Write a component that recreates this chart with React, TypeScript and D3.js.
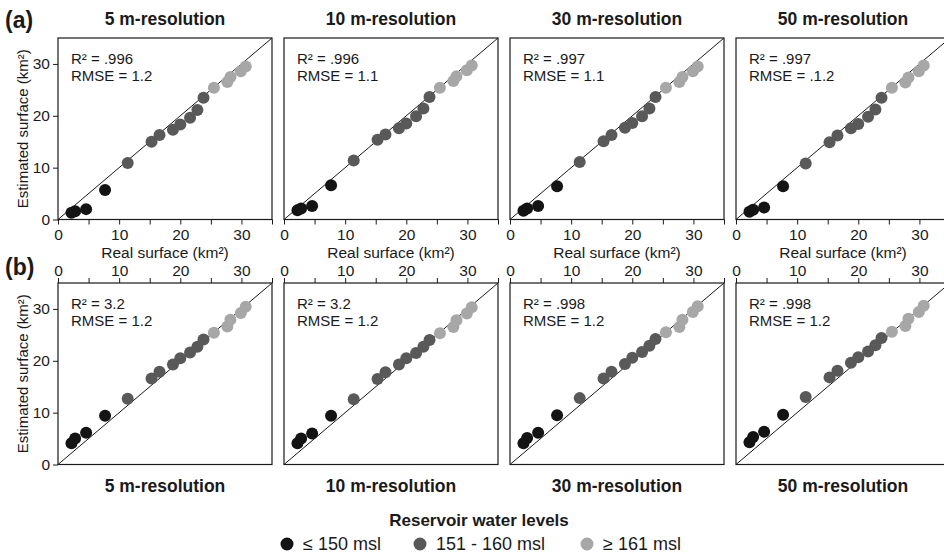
import React, { useEffect, useRef } from 'react';
import * as d3 from 'd3';

// Real surface (km²) of each reservoir observation, same in every panel
const realSurface = [2.2, 2.8, 4.6, 7.7, 11.4, 15.3, 16.6, 18.8, 20.0, 21.6, 22.8, 23.8, 25.5, 27.7, 28.2, 29.9, 30.7];
// water level class: 0 = <=150, 1 = 151-160, 2 = >=161
const levelGroup = [0, 0, 0, 0, 1, 1, 1, 1, 1, 1, 1, 1, 2, 2, 2, 2, 2];

// estimated surface (km²), row (a)
const estA5 = [1.3, 1.6, 2.0, 5.7, 10.9, 15.0, 16.3, 17.3, 18.3, 19.6, 21.1, 23.5, 25.4, 26.5, 27.5, 28.6, 29.5];
const estA10 = [1.8, 2.1, 2.6, 6.6, 11.4, 15.4, 16.4, 17.6, 18.5, 19.9, 21.4, 23.6, 25.4, 26.7, 27.6, 28.8, 29.7];
const estA30 = [1.7, 2.1, 2.6, 6.4, 11.1, 15.1, 16.3, 17.7, 18.6, 19.9, 21.4, 23.6, 25.4, 26.5, 27.5, 28.6, 29.5];
const estA50 = [1.5, 1.9, 2.3, 6.4, 10.8, 14.9, 16.2, 17.6, 18.4, 19.8, 21.2, 23.5, 25.4, 26.4, 27.4, 28.6, 29.7];
// estimated surface (km²), row (b)
const estB5 = [4.1, 5.0, 6.1, 9.4, 12.7, 16.6, 17.9, 19.3, 20.5, 21.6, 22.7, 24.1, 25.4, 26.6, 27.9, 29.2, 30.4];
const estB10 = [4.1, 5.0, 6.0, 9.4, 12.6, 16.5, 17.8, 19.3, 20.5, 21.5, 22.7, 24.0, 25.3, 26.5, 27.8, 29.1, 30.3];
const estB30 = [4.1, 5.1, 6.1, 9.5, 12.8, 16.6, 17.9, 19.4, 20.6, 21.7, 22.9, 24.2, 25.5, 26.5, 27.9, 29.4, 30.5];
const estB50 = [4.3, 5.3, 6.3, 9.6, 13.0, 16.8, 18.1, 19.6, 20.7, 21.8, 23.0, 24.4, 25.6, 26.7, 28.1, 29.4, 30.6];

const resolutions = ['5 m-resolution', '10 m-resolution', '30 m-resolution', '50 m-resolution'];
const statsA = [
  ['R² = .996', 'RMSE = 1.2'],
  ['R² = .996', 'RMSE = 1.1'],
  ['R² = .997', 'RMSE = 1.1'],
  ['R² = .997', 'RMSE = .1.2'],
];
const statsB = [
  ['R² = 3.2', 'RMSE = 1.2'],
  ['R² = 3.2', 'RMSE = 1.2'],
  ['R² = .998', 'RMSE = 1.2'],
  ['R² = .998', 'RMSE = 1.2'],
];
const levelLabels = ['≤ 150 msl', '151 - 160 msl', '≥ 161 msl'];
const levelColors = ['#141414', '#595959', '#a7a7a7'];

const W = 944;
const H = 554;
const FONT = '"Liberation Sans", Arial, sans-serif';
const panelW = 214;
const panelH = 181.5;
const colStep = 226;
const left0 = 58;
const topA = 38;
const topB = 283;
const maxVal = 35;

type PanelProps = {
  x0: number;
  y0: number;
  est: number[];
  stats: string[];
  row: 'a' | 'b';
  showY: boolean;
};

const Panel = ({ x0, y0, est, stats, row, showY }: PanelProps) => {
  const xRef = useRef<SVGGElement>(null);
  const yRef = useRef<SVGGElement>(null);

  const x = d3.scaleLinear().domain([0, maxVal]).range([0, panelW]);
  const y = d3.scaleLinear().domain([0, maxVal]).range([panelH, 0]);

  useEffect(() => {
    const xTicks = d3.range(0, maxVal + 1, 5);
    const fmt = (d: d3.NumberValue) => (+d % 10 === 0 ? String(d) : '');
    const xAxis = row === 'a'
      ? d3.axisBottom(x).tickValues(xTicks).tickFormat(fmt).tickSize(5).tickPadding(4)
      : d3.axisTop(x).tickValues(xTicks).tickFormat(fmt).tickSize(5).tickPadding(2);
    const gx = d3.select(xRef.current!);
    gx.selectAll('*').remove();
    gx.call(xAxis);
    gx.select('.domain').remove();

    if (showY) {
      const gy = d3.select(yRef.current!);
      gy.selectAll('*').remove();
      gy.call(d3.axisLeft(y).tickValues([0, 10, 20, 30]).tickSize(5).tickPadding(3));
      gy.select('.domain').remove();
    }

    d3.selectAll([xRef.current, yRef.current])
      .selectAll('text')
      .attr('font-size', 15.5)
      .attr('font-family', FONT)
      .attr('fill', '#1a1a1a');
    d3.selectAll([xRef.current, yRef.current])
      .selectAll('line')
      .attr('stroke', '#1a1a1a');
  }, []);

  return (
    <g transform={`translate(${x0},${y0})`}>
      <rect x={0} y={0} width={panelW} height={panelH} fill="white" stroke="#1a1a1a" strokeWidth={1.2} />
      <line x1={x(0)} y1={y(0)} x2={x(maxVal)} y2={y(maxVal)} stroke="#1a1a1a" strokeWidth={1} />
      {realSurface.map((r, i) => (
        <circle key={i} cx={x(r)} cy={y(est[i])} r={6} fill={levelColors[levelGroup[i]]} />
      ))}
      <text x={13} y={26} fontSize={15} fontFamily={FONT} fill="#1a1a1a">{stats[0]}</text>
      <text x={13} y={43} fontSize={15} fontFamily={FONT} fill="#1a1a1a">{stats[1]}</text>
      <g ref={xRef} transform={row === 'a' ? `translate(0,${panelH})` : 'translate(0,0)'} />
      <g ref={yRef} />
    </g>
  );
};

const legendX = [287, 420, 587];

const App = () => {
  const rows: { key: 'a' | 'b'; top: number; data: number[][]; stats: string[][] }[] = [
    { key: 'a', top: topA, data: [estA5, estA10, estA30, estA50], stats: statsA },
    { key: 'b', top: topB, data: [estB5, estB10, estB30, estB50], stats: statsB },
  ];

  return (
    <svg width={W} height={H} style={{ position: 'absolute', left: 0, top: 0, background: 'white' }}>
      <rect width={W} height={H} fill="white" />
      {rows.map((rw) => (
        <g key={rw.key}>
          {rw.data.map((est, c) => (
            <Panel
              key={c}
              x0={left0 + c * colStep}
              y0={rw.top}
              est={est}
              stats={rw.stats[c]}
              row={rw.key}
              showY={c === 0}
            />
          ))}
          {resolutions.map((t, c) => (
            <text
              key={t}
              x={left0 + c * colStep + panelW / 2}
              y={rw.key === 'a' ? 25 : 492}
              textAnchor="middle"
              fontSize={17.5}
              fontWeight="bold"
              fontFamily={FONT}
              fill="#1a1a1a"
            >
              {t}
            </text>
          ))}
          <text
            transform={`translate(27.5,${rw.top + panelH / 2}) rotate(-90)`}
            textAnchor="middle"
            fontSize={15}
            fontFamily={FONT}
            fill="#1a1a1a"
          >
            Estimated surface (km²)
          </text>
          <text x={5} y={rw.key === 'a' ? 28 : 275} fontSize={23} fontWeight="bold" fontFamily={FONT} fill="#1a1a1a">
            ({rw.key})
          </text>
        </g>
      ))}
      {resolutions.map((_, c) => (
        <text
          key={c}
          x={left0 + c * colStep + panelW / 2}
          y={258}
          textAnchor="middle"
          fontSize={15.5}
          fontFamily={FONT}
          fill="#1a1a1a"
        >
          Real surface (km²)
        </text>
      ))}
      <text x={479} y={526} textAnchor="middle" fontSize={17} fontWeight="bold" fontFamily={FONT} fill="#1a1a1a">
        Reservoir water levels
      </text>
      {levelLabels.map((lab, i) => (
        <g key={lab}>
          <circle cx={legendX[i]} cy={544} r={6.5} fill={levelColors[i]} />
          <text x={legendX[i] + 16} y={550} fontSize={18} fontFamily={FONT} fill="#1a1a1a">
            {lab}
          </text>
        </g>
      ))}
    </svg>
  );
};

export default App;
